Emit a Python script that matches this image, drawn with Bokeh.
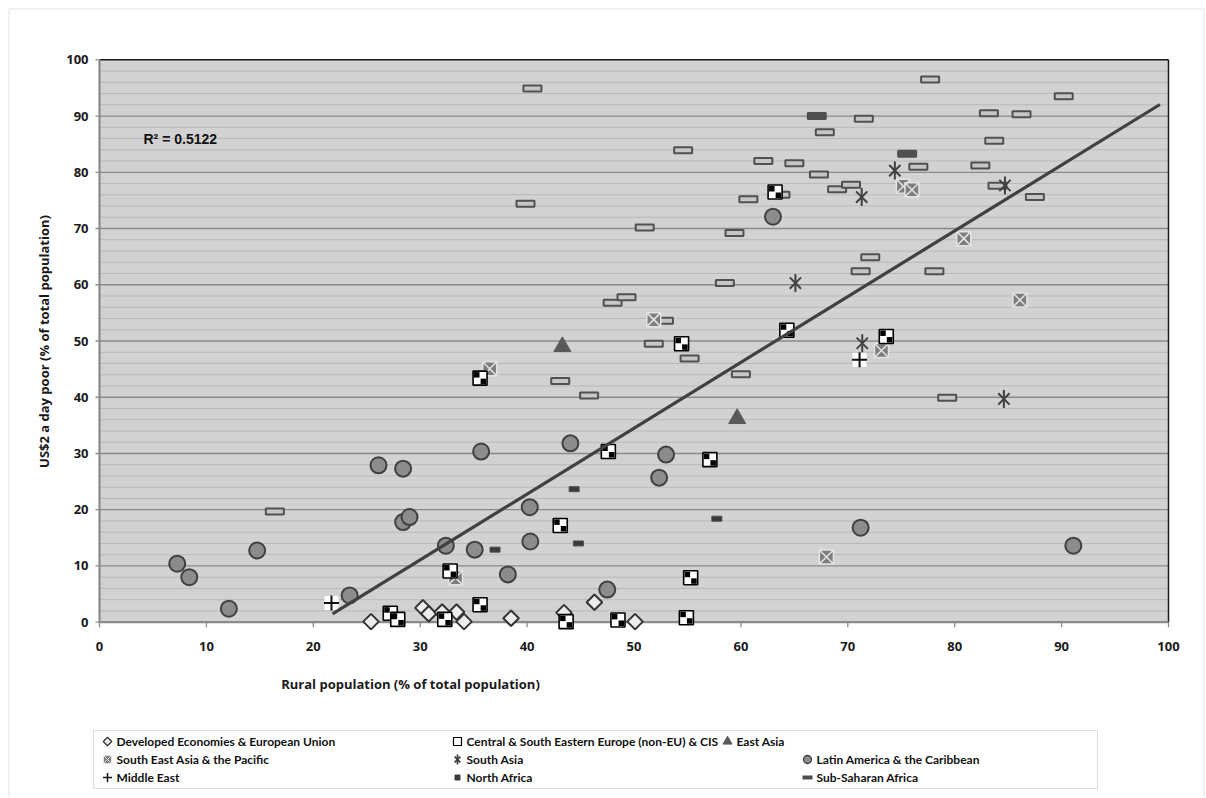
import math
from bokeh.plotting import figure
from bokeh.models import BoxAnnotation, Label, Range1d
from bokeh.core.properties import value
from bokeh.embed import file_html
from bokeh.resources import INLINE

# ---------------- data ----------------
categories = [
    "Developed Economies & European Union",
    "Central & South Eastern Europe (non-EU) & CIS",
    "East Asia",
    "South East Asia & the Pacific",
    "South Asia",
    "Latin America & the Caribbean",
    "Middle East",
    "North Africa",
    "Sub-Saharan Africa",
]

dev_x = [25.4, 30.25, 30.8, 32.05, 33.4, 34.1, 38.5, 43.45, 46.3, 50.1]
dev_y = [0.1, 2.55, 1.5, 1.8, 1.8, 0.1, 0.7, 1.7, 3.55, 0.1]

cse_x = [27.2, 27.9, 32.3, 32.8, 35.6, 35.6, 43.1, 43.65, 47.6, 48.5, 54.45,
         54.9, 55.3, 57.1, 63.2, 64.3, 73.6]
cse_y = [1.6, 0.5, 0.5, 9.1, 3.1, 43.4, 17.2, 0.1, 30.35, 0.4, 49.5,
         0.8, 7.9, 28.9, 76.5, 51.9, 50.8]

ea_x = [43.3, 59.65]
ea_y = [49.0, 36.2]

sea_x = [33.3, 36.5, 51.85, 68.0, 73.15, 75.2, 76.0, 80.85, 86.1]
sea_y = [7.9, 45.05, 53.8, 11.6, 48.3, 77.5, 76.9, 68.2, 57.3]

sa_x = [65.1, 71.3, 71.35, 74.4, 84.6, 84.7]
sa_y = [60.3, 75.6, 49.6, 80.3, 39.7, 77.65]

lac_x = [7.27, 8.4, 12.1, 14.75, 23.4, 26.1, 28.4, 28.4, 29.0, 32.4, 35.1,
         35.7, 38.2, 40.25, 40.3, 44.05, 47.5, 52.35, 53.0, 63.0, 71.2, 91.1]
lac_y = [10.4, 8.0, 2.4, 12.75, 4.75, 27.9, 27.3, 17.8, 18.7, 13.6, 12.9,
         30.35, 8.5, 20.45, 14.35, 31.8, 5.8, 25.7, 29.8, 72.1, 16.8, 13.6]

me_x = [21.7, 71.1]
me_y = [3.4, 46.65]

na_x = [37.0, 44.4, 44.8, 57.75]
na_y = [12.9, 23.65, 14.0, 18.4]

ssa_x = [16.4, 39.85, 40.5, 43.1, 45.8, 48.0, 49.3, 51.0, 51.85, 52.8,
         54.6, 55.2, 58.5, 59.4, 60.0, 60.7, 62.1, 63.7, 65.0, 67.3,
         67.85, 69.0, 70.3, 71.2, 71.5, 72.1, 76.6, 77.7, 78.1, 79.3,
         82.4, 83.2, 83.7, 84.0, 86.25, 87.5, 90.2]
ssa_y = [19.7, 74.4, 94.9, 42.9, 40.3, 56.8, 57.8, 70.2, 49.5, 53.6,
         83.9, 46.9, 60.3, 69.2, 44.1, 75.2, 82.0, 76.0, 81.6, 79.6,
         87.1, 77.0, 77.8, 62.4, 89.5, 64.9, 81.0, 96.5, 62.4, 39.9,
         81.2, 90.5, 85.6, 77.6, 90.3, 75.6, 93.5]
# overlapping (darker) Sub-Saharan markers
ssa2_x = [67.1, 75.55]
ssa2_y = [90.0, 83.3]

trend_x = [21.8, 99.2]
trend_y = [1.5, 92.05]
r2_text = "R² = 0.5122"

x_title = "Rural population (% of total population)"
y_title = "US$2 a day poor (% of total population)"
x_ticks = list(range(0, 101, 10))
y_ticks = list(range(0, 101, 10))
y_minor = [v for v in range(2, 100, 2) if v % 10]

# ---------------- layout (pixels) ----------------
W, H = 1205, 797
OX, OY = 99.0, 621.7          # pixel position of the data origin
PXX, PXY = 10.69, 5.624       # pixels per data unit


def dx(px):
    return (px - OX) / PXX


def dy(py):
    return (OY - py) / PXY


FONT = "Open Sans"
LFONT = "Lato"
TXT = "#1a1a1a"

p = figure(width=W, height=H, x_range=Range1d(dx(0), dx(W)),
           y_range=Range1d(dy(H), dy(0)), min_border=0,
           x_axis_location=None, y_axis_location=None, title=None,
           output_backend="svg", toolbar_location=None,
           background_fill_color="white", border_fill_color="white",
           outline_line_color=None)
p.grid.visible = False

XMIN, XMAX, YMIN, YMAX = x_ticks[0], x_ticks[-1], y_ticks[0], y_ticks[-1]

# outer chart border
p.add_layout(BoxAnnotation(left=dx(8.5), right=dx(1203.5), top=dy(8.5),
                           bottom=dy(H + 20), fill_color=None,
                           line_color="#c0c0c0", line_width=1.5))
# plot area background
p.add_layout(BoxAnnotation(left=XMIN, right=XMAX, bottom=YMIN, top=YMAX,
                           fill_color="#d2d2d2", fill_alpha=1,
                           line_color=None, level="image"))

# grid lines
p.segment(x0=[XMIN] * len(y_minor), y0=y_minor, x1=[XMAX] * len(y_minor),
          y1=y_minor, line_color="#b9b9b9", line_width=1)
mg = y_ticks[1:-1]
p.segment(x0=[XMIN] * len(mg), y0=mg, x1=[XMAX] * len(mg), y1=mg,
          line_color="#8a8a8a", line_width=1.3)

# plot border: top / right dark, left / bottom gray axis lines
p.segment(x0=[XMIN, XMAX], y0=[YMAX, YMIN], x1=[XMAX, XMAX], y1=[YMAX, YMAX],
          line_color="#1a1a1a", line_width=1.5)
p.segment(x0=[XMIN, XMIN], y0=[YMIN, YMIN], x1=[XMIN, XMAX], y1=[YMAX, YMIN],
          line_color="#8a8a8a", line_width=2.2)

# ticks
p.segment(x0=x_ticks, y0=[YMIN] * len(x_ticks), x1=x_ticks,
          y1=[dy(OY + 5)] * len(x_ticks), line_color="#8a8a8a", line_width=1.3)
p.segment(x0=[dx(OX - 4)] * len(y_ticks), y0=y_ticks, x1=[XMIN] * len(y_ticks),
          y1=y_ticks, line_color="#8a8a8a", line_width=1.3)

# tick labels
p.text(x=x_ticks, y=[dy(645.5)] * len(x_ticks), text=[str(t) for t in x_ticks],
       text_font=value(FONT), text_font_style="bold", text_font_size="13px",
       text_color=TXT, text_align="center", text_baseline="middle")
p.text(x=[dx(88)] * len(y_ticks), y=y_ticks, text=[str(t) for t in y_ticks],
       text_font=value(FONT), text_font_style="bold", text_font_size="13px",
       text_color=TXT, text_align="right", text_baseline="middle")

# axis titles
p.text(x=[dx(410)], y=[dy(683)], text=[x_title], text_font=value(FONT),
       text_font_style="bold", text_font_size="13px", text_color=TXT,
       text_align="center", text_baseline="middle")
p.text(x=[dx(43)], y=[dy(341)], text=[y_title], angle=math.pi / 2,
       text_font=value(FONT), text_font_style="bold", text_font_size="13px",
       text_color=TXT, text_align="center", text_baseline="middle")

# ---------------- series ----------------
# Sub-Saharan Africa: hollow dashes
p.rect(x=ssa_x, y=ssa_y, width=18, height=6, width_units="screen",
       height_units="screen", fill_color="#c6c6c6", line_color="#505050",
       line_width=2)
p.rect(x=ssa2_x, y=ssa2_y, width=18, height=6, width_units="screen",
       height_units="screen", fill_color="#505050", line_color="#505050",
       line_width=2)
# North Africa: small filled bars
p.rect(x=na_x, y=na_y, width=10, height=5, width_units="screen",
       height_units="screen", fill_color="#3a3a3a", line_color="#505050",
       line_width=1)

# Latin America: gray circles
p.scatter(lac_x, lac_y, marker="circle", size=16, fill_color="#8c8c8c",
          line_color="#404040", line_width=2)

# East Asia: triangles
p.scatter(ea_x, ea_y, marker="triangle", size=17, fill_color="#595959",
          line_color="#595959", line_width=1)

# South East Asia: square with X
p.scatter(sea_x, sea_y, marker="square_x", size=14, fill_color="#7d7d7d",
          line_color="#e4e4e4", line_width=1.5)

# South Asia: asterisks
p.scatter(sa_x, sa_y, marker="x", size=16, line_color="#404040", line_width=2)
p.scatter(sa_x, sa_y, marker="dash", angle=math.pi / 2, size=18,
          line_color="#404040", line_width=2)

# Developed economies: hollow diamonds
p.scatter(dev_x, dev_y, marker="square", angle=math.pi / 4, size=11,
          fill_color="#ececec", line_color="#333333", line_width=2)

# Central & SE Europe & CIS: checkered squares
p.scatter(cse_x, cse_y, marker="square", size=14, fill_color="white",
          line_color="black", line_width=1.6)
ox, oy = 3.3 / PXX, 3.3 / PXY
p.scatter([v - ox for v in cse_x], [v + oy for v in cse_y], marker="square",
          size=5.5, fill_color="black", line_color=None)
p.scatter([v + ox for v in cse_x], [v - oy for v in cse_y], marker="square",
          size=5.5, fill_color="black", line_color=None)

# Middle East: plus on white
p.scatter(me_x, me_y, marker="square", size=14, fill_color="white",
          line_color=None)
p.scatter(me_x, me_y, marker="cross", size=15, line_color="#111111",
          line_width=2)

# trend line
p.line(trend_x, trend_y, line_color="#404040", line_width=3.2)

p.add_layout(Label(x=dx(143), y=dy(138), text=r2_text,
                   text_font="Liberation Sans", text_font_style="bold",
                   text_font_size="14px", text_baseline="middle",
                   text_color="#111111"))

# ---------------- legend (drawn in the canvas) ----------------
LB = (93, 730, 1097, 788)                      # left, top, right, bottom
p.add_layout(BoxAnnotation(left=dx(LB[0]), right=dx(LB[2]), top=dy(LB[1]),
                           bottom=dy(LB[3]), fill_color="white",
                           fill_alpha=1, line_color="#8a8a8a", line_width=1,
                           level="underlay"))
rows = [741, 759, 777]
cols = [107, 457, 807]
pos = []
for i in range(len(categories)):
    r, c = divmod(i, 3)
    mx = cols[c]
    if i == 2:
        mx = 727
    pos.append((mx, rows[r]))

lx = [dx(m[0]) for m in pos]
ly = [dy(m[1]) for m in pos]
p.text(x=[dx(m[0] + 9) for m in pos], y=ly, text=categories,
       text_font=value(LFONT), text_font_style="bold", text_font_size="12px",
       text_color="#111111", text_align="left", text_baseline="middle")

p.scatter([lx[0]], [ly[0]], marker="square", angle=math.pi / 4, size=6,
          fill_color="#f0f0f0", line_color="#333333", line_width=1.3)
p.scatter([lx[1]], [ly[1]], marker="square", size=8, fill_color="white",
          line_color="black", line_width=1.2)
p.scatter([lx[2]], [ly[2]], marker="triangle", size=9, fill_color="#595959",
          line_color="#595959")
p.scatter([lx[3]], [ly[3]], marker="square_x", size=8, fill_color="#7d7d7d",
          line_color="#e4e4e4", line_width=1)
p.scatter([lx[4]], [ly[4]], marker="x", size=8, line_color="#404040",
          line_width=1.8)
p.scatter([lx[4]], [ly[4]], marker="dash", angle=math.pi / 2, size=10,
          line_color="#404040", line_width=1.8)
p.scatter([lx[5]], [ly[5]], marker="circle", size=8, fill_color="#8c8c8c",
          line_color="#404040", line_width=1.3)
p.scatter([lx[6]], [ly[6]], marker="cross", size=9, line_color="#111111",
          line_width=1.5)
p.scatter([lx[7]], [ly[7]], marker="square", size=5, fill_color="#3a3a3a",
          line_color="#3a3a3a")
p.scatter([lx[8]], [ly[8]], marker="dash", size=10, line_color="#505050",
          line_width=4)

open("out.html", "w").write(file_html(p, INLINE, "chart"))
